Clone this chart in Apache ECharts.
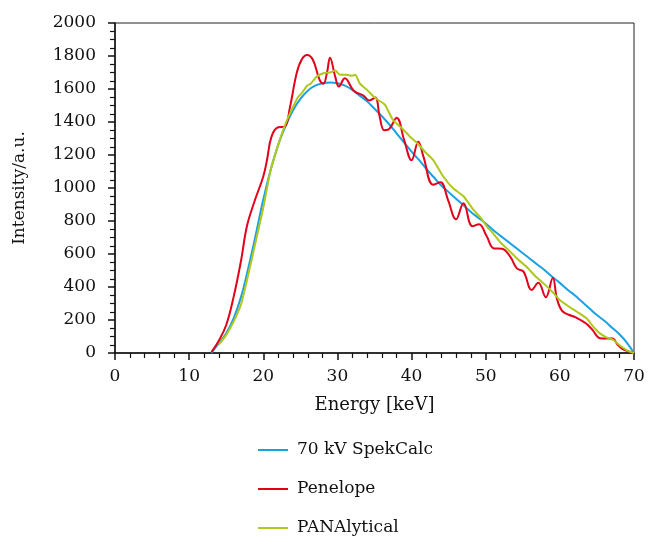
<!DOCTYPE html>
<html>
<head>
<meta charset="utf-8">
<script src="https://cdn.jsdelivr.net/npm/echarts@6/dist/echarts.min.js"></script>
<style>
  html, body { margin: 0; padding: 0; background: #fff; }
  #chart { width: 657px; height: 538px; }
</style>
</head>
<body>
<div id="chart"></div>
<script>
// 70 kV SpekCalc
var blueEnergy = [13, 14, 15, 16, 17, 18, 19, 20, 21, 22, 23, 24, 25, 26, 27, 28, 29, 30, 31, 32, 33, 34, 35,
    36, 37, 38, 39, 40, 41, 42, 43, 44, 45, 46, 47, 48, 49, 50, 51, 52, 53, 54, 55, 56, 57, 58, 59, 60,
    61, 62, 63, 64, 65, 66, 67, 68, 69, 70];
var blueIntensity = [0, 60, 120, 210, 340, 520, 720, 930, 1110, 1260, 1375, 1470, 1540, 1590, 1620, 1635, 1640,
    1635, 1620, 1595, 1560, 1525, 1480, 1435, 1385, 1330, 1275, 1220, 1170, 1115, 1065, 1015, 975, 935, 895,
    855, 820, 785, 745, 710, 675, 640, 605, 570, 535, 500, 460, 425, 385, 350, 310, 270, 230, 195, 155,
    115, 65, 0];

// Penelope
var redEnergy = [13, 14, 15, 16, 17, 17.8, 18.9, 20, 20.5, 21.1, 22, 22.9, 23.6, 24.5, 25.2, 25.9, 26.7, 27.6,
    28.1, 28.6, 29.0, 29.7, 30.2, 31.0, 32.2, 33.5, 34.3, 35.1, 35.7, 36.3, 36.9, 38.0, 39.0, 40.0, 40.9,
    41.6, 42.9, 43.9, 44.9, 46.0, 47.0, 48.2, 49.1, 50.1, 51.1, 52.2, 53.3, 54.2, 55.1, 56.2, 57.1, 58.1,
    59.05, 59.6, 60.3, 61.2, 62.2, 63.5, 64.4, 65.4, 66.3, 67.1, 67.8, 68.6, 70];
var redIntensity = [5, 75, 170, 340, 560, 770, 930, 1070, 1170, 1310, 1368, 1372, 1490, 1695, 1780, 1806, 1776,
    1655, 1632, 1700, 1790, 1675, 1615, 1665, 1590, 1560, 1530, 1548, 1432, 1350, 1355, 1425, 1290, 1168,
    1280, 1190, 1020, 1035, 930, 810, 907, 768, 780, 710, 634, 632, 584, 513, 493, 382, 426, 338, 455, 330,
    255, 232, 215, 180, 140, 90, 88, 88, 50, 20, 0];

// PANAlytical
var greenEnergy = [14, 15, 16, 17, 18, 19, 20, 21, 22, 23, 24, 24.7, 25.2, 25.9, 26.4, 27.2, 28.1, 29.0, 29.7,
    30.35, 31.25, 31.9, 32.4, 33.0, 34.0, 35.0, 35.5, 36.4, 37.5, 38.7, 39.8, 40.9, 41.8, 42.9, 44.3, 45.6,
    47.0, 48.3, 49.2, 50.2, 51.0, 52.0, 53.3, 54.4, 55.5, 56.6, 57.8, 59, 60.0, 61.1, 62.3, 63.6, 64.5,
    65.4, 66.3, 67.2, 68.1, 69.0, 70];
var greenIntensity = [50, 110, 190, 295, 480, 680, 880, 1110, 1260, 1390, 1490, 1553, 1575, 1620, 1632, 1675,
    1695, 1700, 1712, 1686, 1686, 1680, 1686, 1634, 1594, 1550, 1533, 1505, 1412, 1362, 1311, 1265, 1220,
    1170, 1068, 998, 950, 870, 826, 765, 725, 670, 614, 565, 523, 470, 422, 370, 321, 285, 250, 210, 160,
    119, 95, 79, 45, 18, 0];

var seriesNames = ['70 kV SpekCalc', 'Penelope', 'PANAlytical'];
var seriesColors = ['#1ba1e2', '#e2001a', '#afc81c'];

function zip(xs, ys) {
    var out = [];
    for (var i = 0; i < xs.length; i++) {
        out.push([xs[i], ys[i]]);
    }
    return out;
}

var font = '"DejaVu Serif", serif';
var chart = echarts.init(document.getElementById('chart'), null, { renderer: 'canvas' });

var option = {
    animation: false,
    backgroundColor: '#fff',
    color: seriesColors,
    textStyle: { fontFamily: font, color: '#111' },
    grid: {
        left: 115, right: 23, top: 23, bottom: 185,
        show: true, borderColor: '#222', borderWidth: 1
    },
    legend: {
        orient: 'vertical',
        left: 253, top: 435, height: 120,
        icon: 'rect',
        itemWidth: 30, itemHeight: 2,
        itemGap: 19,
        data: seriesNames,
        textStyle: { fontFamily: font, fontSize: 17, lineHeight: 20, color: '#111', padding: [0, 0, 0, 4] }
    },
    xAxis: {
        type: 'value',
        min: 0, max: 70, interval: 10,
        name: 'Energy [keV]',
        nameLocation: 'middle',
        nameGap: 43,
        nameTextStyle: { fontFamily: font, fontSize: 18, color: '#111' },
        axisLine: { onZero: false, lineStyle: { color: '#111', width: 1.5 } },
        axisTick: { length: 7, lineStyle: { color: '#111', width: 1.5 } },
        minorTick: { show: true, splitNumber: 5, length: 5, lineStyle: { color: '#111', width: 1.2 } },
        axisLabel: { fontFamily: font, fontSize: 17, color: '#111', margin: 15 },
        splitLine: { show: false }
    },
    yAxis: {
        type: 'value',
        min: 0, max: 2000, interval: 200,
        name: 'Intensity/a.u.',
        nameLocation: 'middle',
        nameGap: 87,
        nameTextStyle: { fontFamily: font, fontSize: 17, color: '#111' },
        axisLine: { show: true, onZero: false, lineStyle: { color: '#111', width: 1.5 } },
        axisTick: { show: true, length: 7, lineStyle: { color: '#111', width: 1.5 } },
        minorTick: { show: true, splitNumber: 4, length: 5, lineStyle: { color: '#111', width: 1.2 } },
        axisLabel: {
            fontFamily: font, fontSize: 17, color: '#111', margin: 19,
            formatter: function (v) { return String(v); }
        },
        splitLine: { show: false }
    },
    series: [
        {
            name: seriesNames[0], type: 'line', symbol: 'none', smooth: 0.4,
            lineStyle: { width: 2, color: seriesColors[0] },
            data: zip(blueEnergy, blueIntensity)
        },
        {
            name: seriesNames[1], type: 'line', symbol: 'none', smooth: 0.4,
            lineStyle: { width: 2, color: seriesColors[1] },
            data: zip(redEnergy, redIntensity)
        },
        {
            name: seriesNames[2], type: 'line', symbol: 'none', smooth: 0.2,
            lineStyle: { width: 2, color: seriesColors[2] },
            data: zip(greenEnergy, greenIntensity)
        }
    ]
};

chart.setOption(option);
</script>
</body>
</html>
